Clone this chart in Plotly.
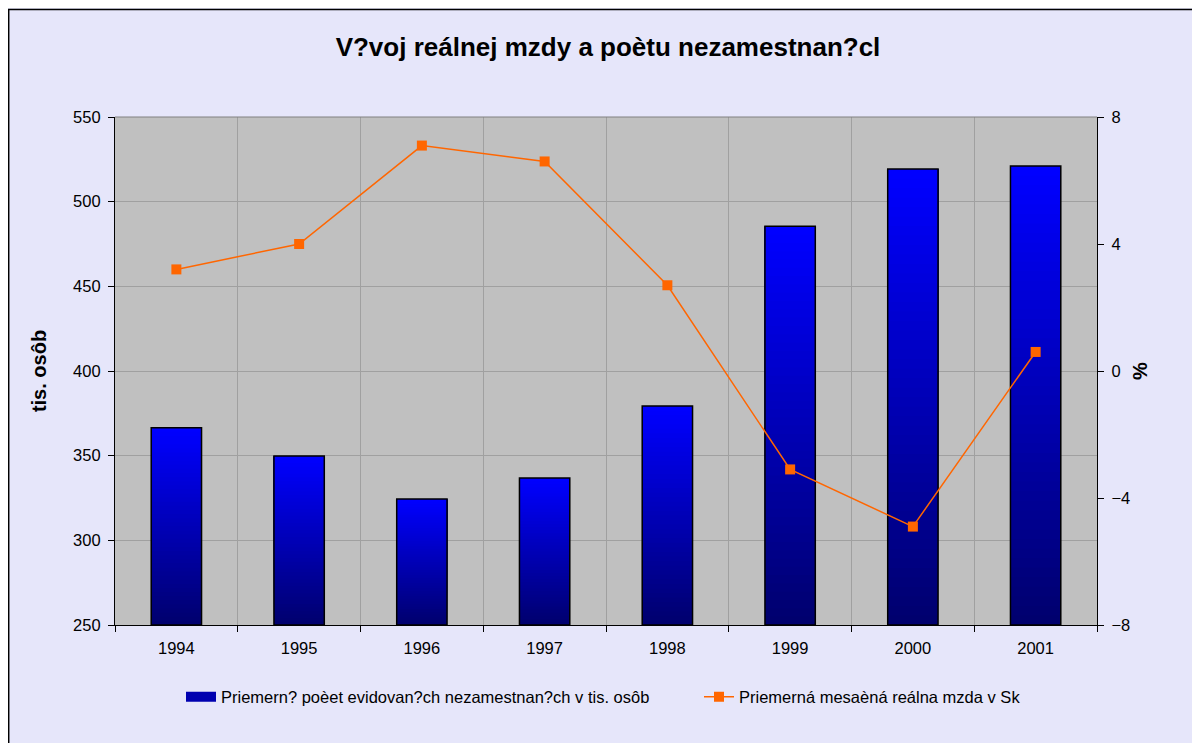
import plotly.graph_objects as go

years = ["1994", "1995", "1996", "1997", "1998", "1999", "2000", "2001"]
unemployed = [366.5, 349.8, 324.4, 336.8, 379.4, 485.5, 519.3, 521.0]
real_wage = [3.2, 4.0, 7.1, 6.6, 2.7, -3.1, -4.9, 0.6]

title_text = "V?voj reálnej mzdy a poètu nezamestnan?cl"
bar_name = "Priemern? poèet evidovan?ch nezamestnan?ch v tis. osôb"
line_name = "Priemerná mesaèná reálna mzda v Sk"
y_title = "tis. osôb"
y2_title = "%"

# the page body has an 8px margin: figure coordinates = page coordinates - 8
OFF = 8
W, H = 1190, 735
L, R, T, B = 115 - OFF, 1097 - OFF, 117 - OFF, 625 - OFF
FONT = "Liberation Sans, Arial, sans-serif"
Y_MIN, Y_MAX = 250, 550


def px(x):
    return (x - OFF - L) / (R - L)


def py(y):
    return (B - (y - OFF)) / (B - T)


fig = go.Figure()

# gradient bars: stacked overlapping slices (dark at bottom -> bright blue top)
N = 48
bottom_rgb = (0, 0, 110)
top_rgb = (0, 0, 255)
BAR_W = 0.41
for i in range(N):
    f = i / (N - 1)
    col = "rgb(%d,%d,%d)" % tuple(int(round(b + (t - b) * f)) for b, t in zip(bottom_rgb, top_rgb))
    bases = [Y_MIN + (v - Y_MIN) * i / N for v in unemployed]
    fig.add_trace(go.Bar(
        x=years, y=[v - b for v, b in zip(unemployed, bases)], base=bases,
        marker=dict(color=col, line=dict(width=0)), width=BAR_W,
        showlegend=False, hoverinfo="skip"))

# bar outline
fig.add_trace(go.Bar(
    x=years, y=[v - Y_MIN for v in unemployed], base=Y_MIN,
    marker=dict(color="rgba(0,0,0,0)", line=dict(color="black", width=1.5)),
    width=BAR_W, showlegend=False, name=bar_name))

# legend entry for bars (wide dark-blue swatch)
fig.add_trace(go.Scatter(
    x=years, y=[None] * len(years), name=bar_name, mode="lines",
    line=dict(color="#0000B0", width=10), showlegend=True, legend="legend"))

fig.add_trace(go.Scatter(
    x=years, y=real_wage, yaxis="y2", name=line_name, mode="lines+markers",
    line=dict(color="#FF6600", width=1.5),
    marker=dict(symbol="square", size=10, color="#FF6600"),
    cliponaxis=False, legend="legend2"))

shapes = [
    # top border of plot area
    dict(type="line", xref="paper", yref="paper", x0=0, x1=1, y0=1, y1=1,
         line=dict(color="#808080", width=1)),
    # outer frame
    dict(type="rect", xref="paper", yref="paper", x0=px(8.7), x1=px(1197.5), y0=py(9.5), y1=py(760),
         fillcolor="rgba(0,0,0,0)", line=dict(color="black", width=1.5)),
]

legend_common = dict(orientation="h", xanchor="left", yanchor="middle",
                     bgcolor="rgba(0,0,0,0)", font=dict(size=16.5), borderwidth=0)

fig.update_layout(
    width=W, height=H, autosize=False,
    margin=dict(l=L, r=W - R, t=T, b=H - B, pad=0),
    paper_bgcolor="#E6E6FA", plot_bgcolor="#C0C0C0",
    font=dict(family=FONT, size=16.5, color="black"),
    barmode="overlay",
    title=dict(text="<b>" + title_text + "</b>", font=dict(size=26, family=FONT, color="black"),
               x=px(608), xref="paper", xanchor="center",
               y=1 - (47 - OFF) / H, yref="container", yanchor="middle"),
    xaxis=dict(type="category", range=[-0.5, 7.5], tickson="boundaries",
               ticks="outside", ticklen=6, tickcolor="black",
               showgrid=True, gridcolor="#A0A0A0", gridwidth=1,
               showline=True, linecolor="black", linewidth=1.2,
               tickfont=dict(size=16.5), ticklabelstandoff=8, zeroline=False),
    yaxis=dict(range=[Y_MIN, Y_MAX], dtick=50, tick0=250,
               ticks="outside", ticklen=6, tickcolor="black",
               showgrid=True, gridcolor="#A0A0A0", gridwidth=1,
               showline=True, linecolor="black", linewidth=1.2,
               tickfont=dict(size=16.5), zeroline=False, ticklabelstandoff=4,
               title=dict(text="<b>" + y_title + "</b>", font=dict(size=20), standoff=21)),
    yaxis2=dict(range=[-8, 8], dtick=4, tick0=-8, overlaying="y", side="right",
                ticks="outside", ticklen=6, tickcolor="black",
                showgrid=False, showline=True, linecolor="black", linewidth=1.2,
                tickfont=dict(size=16.5), zeroline=False, ticklabelstandoff=4,
                title=dict(text="<b>" + y2_title + "</b>", font=dict(size=20), standoff=3)),
    legend=dict(x=px(181), y=py(697), **legend_common),
    legend2=dict(x=px(699), y=py(697), **legend_common),
    shapes=shapes,
    showlegend=True,
)

fig.write_html("out.html")
